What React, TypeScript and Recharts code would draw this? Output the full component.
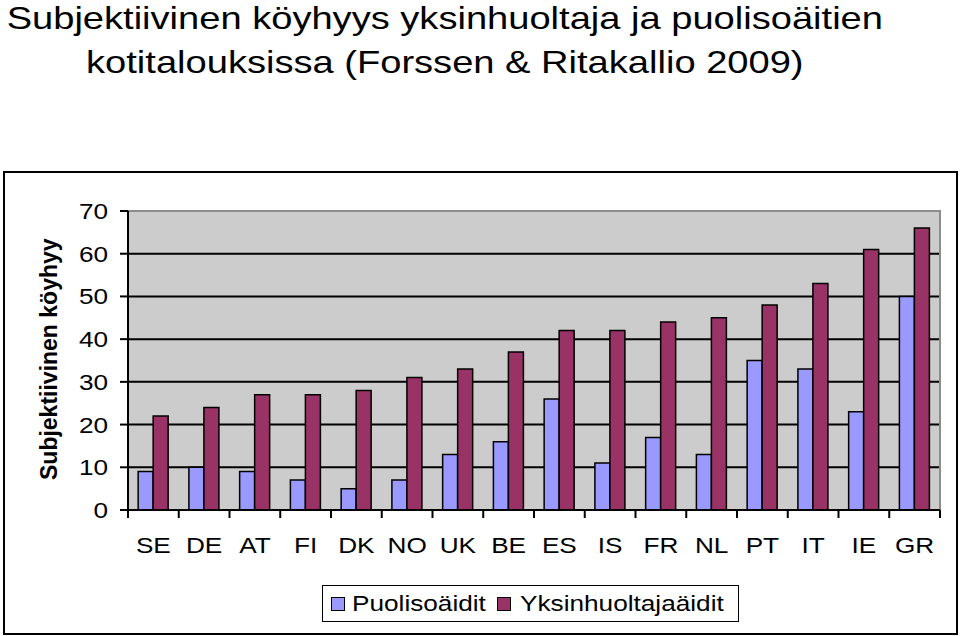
import { BarChart, Bar, XAxis, YAxis, CartesianGrid, ReferenceArea } from "recharts";

const countries = ["SE", "DE", "AT", "FI", "DK", "NO", "UK", "BE", "ES", "IS", "FR", "NL", "PT", "IT", "IE", "GR"];
const puolisoaidit = [9, 10, 9, 7, 5, 7, 13, 16, 26, 11, 17, 13, 35, 33, 23, 50];
const yksinhuoltajaaidit = [22, 24, 27, 27, 28, 31, 33, 37, 42, 42, 44, 45, 48, 53, 61, 66];
const yTicks = [0, 10, 20, 30, 40, 50, 60, 70];

const data = countries.map((c, i) => ({
  country: c,
  puoliso: puolisoaidit[i],
  yksin: yksinhuoltajaaidit[i],
}));

const FONT = "'Liberation Sans', Arial, sans-serif";
const BLUE = "#9999ff";
const RED = "#993366";
const STRETCH = 1.19; // the source picture is a bit wider than tall

// plot area geometry (page coords)
const PLOT_LEFT = 128;
const PLOT_RIGHT = 940;
const BAND = (PLOT_RIGHT - PLOT_LEFT) / countries.length;
const CHART_TOP = 172;

const XTick = (props: any) => {
  const { x, y, payload, index } = props;
  const last = index === countries.length - 1;
  return (
    <g>
      <line x1={x - BAND / 2} y1={y} x2={x - BAND / 2} y2={y + 8} stroke="#000" strokeWidth={2} />
      {last && <line x1={x + BAND / 2} y1={y} x2={x + BAND / 2} y2={y + 8} stroke="#000" strokeWidth={2} />}
      <text
        transform={`translate(${x} ${y + 43}) scale(${STRETCH} 1)`}
        textAnchor="middle"
        fontSize={22}
        fontFamily={FONT}
        fill="#000"
      >
        {payload.value}
      </text>
    </g>
  );
};

const YTick = (props: any) => {
  const { x, y, payload } = props;
  return (
    <text
      transform={`translate(${x} ${y}) scale(${STRETCH} 1)`}
      textAnchor="end"
      dy="0.36em"
      fontSize={22}
      fontFamily={FONT}
      fill="#000"
    >
      {payload.value}
    </text>
  );
};

const stretched = (left: number, top: number, text: string, size: number) => (
  <span
    style={{
      position: "absolute",
      left,
      top,
      fontSize: size,
      lineHeight: 1,
      whiteSpace: "nowrap",
      transform: `scaleX(${STRETCH})`,
      transformOrigin: "0 0",
    }}
  >
    {text}
  </span>
);

const App = () => {
  return (
    <div style={{ position: "absolute", left: 0, top: 0, width: 960, height: 636, background: "#fff", fontFamily: FONT, color: "#000", overflow: "hidden" }}>
      <div
        style={{
          position: "absolute",
          left: 0,
          top: -4,
          width: 890,
          textAlign: "center",
          fontSize: 32,
          lineHeight: "44px",
          transform: `scaleX(${STRETCH})`,
          transformOrigin: "446px 0",
        }}
      >
        Subjektiivinen köyhyys yksinhuoltaja ja puolisoäitien
        <br />
        kotitalouksissa (Forssen &amp; Ritakallio 2009)
      </div>
      <div
        style={{
          position: "absolute",
          left: 3,
          top: 171,
          width: 951,
          height: 460,
          border: "2px solid #000",
        }}
      />
      <div style={{ position: "absolute", left: 0, top: CHART_TOP }}>
        <BarChart
          width={960}
          height={462}
          data={data}
          margin={{ top: 39, right: 20, left: 68, bottom: 84 }}
          barCategoryGap="20%"
          barGap={0}
        >
          <CartesianGrid
            fill="#cccccc"
            vertical={false}
            horizontalValues={[10, 20, 30, 40, 50, 60]}
            stroke="#000"
            strokeWidth={2}
            strokeOpacity={1}
          />
          <ReferenceArea y1={0} y2={70} fill="none" stroke="#8c8c8c" strokeWidth={2} ifOverflow="visible" />
          <XAxis
            dataKey="country"
            height={40}
            axisLine={{ stroke: "#000", strokeWidth: 2 }}
            tickLine={false}
            tickSize={0}
            tickMargin={0}
            tick={<XTick />}
            interval={0}
          />
          <YAxis
            width={60}
            domain={[0, 70]}
            ticks={yTicks}
            interval={0}
            axisLine={{ stroke: "#000", strokeWidth: 2 }}
            tickLine={{ stroke: "#000", strokeWidth: 2 }}
            tickSize={8}
            tickMargin={12}
            tick={<YTick />}
            label={{
              value: "Subjektiivinen köyhyy",
              content: () => (
                <text
                  transform={`translate(57 ${480 - CHART_TOP}) rotate(-90)`}
                  textAnchor="start"
                  fontSize={23}
                  fontWeight="bold"
                  fontFamily={FONT}
                  fill="#000"
                >
                  Subjektiivinen köyhyy
                </text>
              ),
            }}
          />
          <Bar dataKey="puoliso" name="Puolisoäidit" fill={BLUE} stroke="#000" strokeWidth={1.5} isAnimationActive={false} />
          <Bar dataKey="yksin" name="Yksinhuoltajaäidit" fill={RED} stroke="#000" strokeWidth={1.5} isAnimationActive={false} />
        </BarChart>
      </div>
      <div
        style={{
          position: "absolute",
          left: 322,
          top: 585,
          width: 415,
          height: 35,
          border: "1.5px solid #000",
        }}
      >
        <span style={{ position: "absolute", left: 8, top: 11, width: 12, height: 12, background: BLUE, border: "1px solid #000" }} />
        {stretched(29, 7, "Puolisoäidit", 22)}
        <span style={{ position: "absolute", left: 174, top: 11, width: 12, height: 12, background: RED, border: "1px solid #000" }} />
        {stretched(197, 7, "Yksinhuoltajaäidit", 22)}
      </div>
    </div>
  );
};

export default App;
